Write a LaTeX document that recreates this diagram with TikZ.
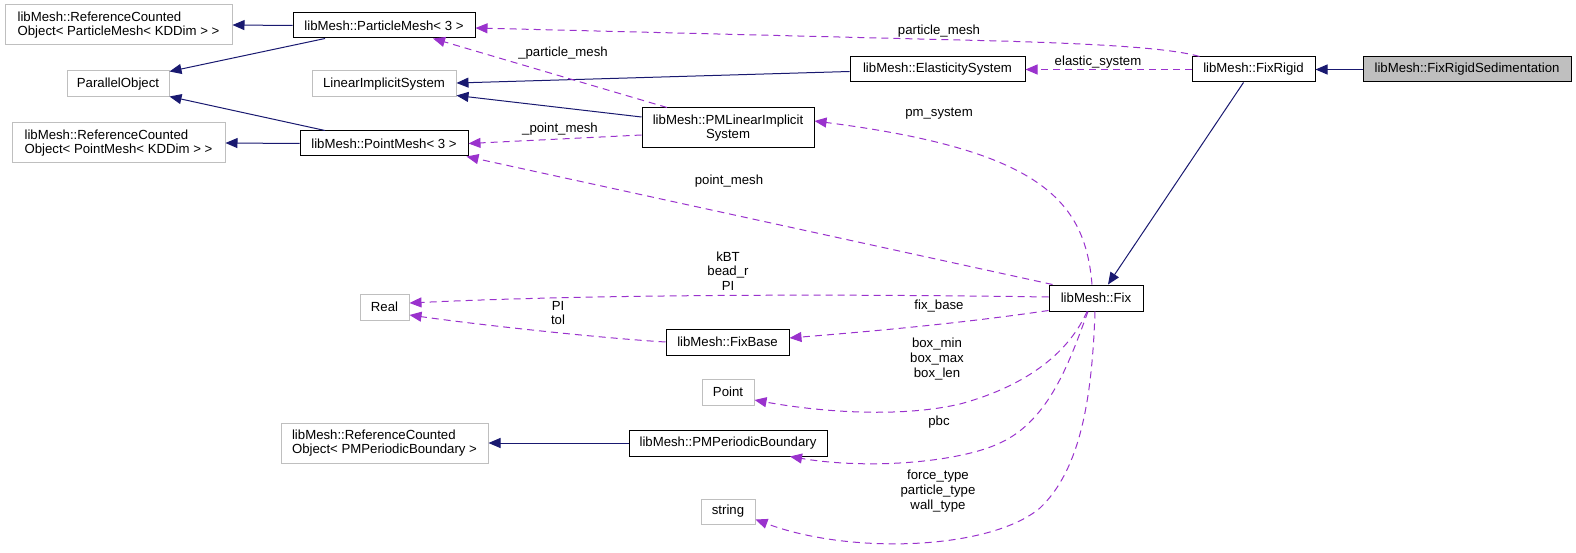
\documentclass[tikz,border=0pt]{standalone}
\usepackage{fontspec}
\setmainfont{Liberation Sans}
\usetikzlibrary{arrows.meta}
\definecolor{navyedge}{HTML}{191970}
\definecolor{depedge}{HTML}{9A32CD}
\definecolor{boxgray}{HTML}{BFBFBF}
\newcommand\dfont{\fontsize{13.2}{14.6}\selectfont}
\tikzset{
  box/.style={rectangle, draw=black, fill=white, line width=1pt, inner sep=0pt, font=\dfont, align=center},
  gbox/.style={box, draw=boxgray},
  inh/.style={draw=navyedge, line width=1pt, -{Triangle[length=12pt,width=10pt]}},
  dep/.style={draw=depedge, line width=1pt, dash pattern=on 7pt off 5pt, -{Triangle[length=12pt,width=10pt]}},
  lab/.style={font=\dfont, inner sep=0pt, align=center}
}
\begin{document}
\begin{tikzpicture}[x=1pt,y=-1pt]
\useasboundingbox (0,0) rectangle (1576,553);
% nodes
\node[gbox, minimum width=227pt, minimum height=40pt, align=left] (rcpm) at (118.5,25) {libMesh::ReferenceCounted\\Object< ParticleMesh< KDDim > >};
\node[box, minimum width=182pt, minimum height=25pt] (pm) at (384,25.5) {libMesh::ParticleMesh< 3 >};
\node[gbox, minimum width=102pt, minimum height=26pt] (po) at (118,84) {ParallelObject};
\node[gbox, minimum width=144pt, minimum height=26pt] (lis) at (384,84) {LinearImplicitSystem};
\node[gbox, minimum width=213pt, minimum height=40pt, align=left] (rcptm) at (118.5,143) {libMesh::ReferenceCounted\\Object< PointMesh< KDDim > >};
\node[box, minimum width=168pt, minimum height=25pt] (ptm) at (384,143.5) {libMesh::PointMesh< 3 >};
\node[box, minimum width=175pt, minimum height=25pt] (es) at (937.5,69.5) {libMesh::ElasticitySystem};
\node[box, minimum width=172pt, minimum height=40pt] (pmlis) at (728,128) {libMesh::PMLinearImplicit\\System};
\node[box, minimum width=123pt, minimum height=25pt] (fr) at (1253.5,69.5) {libMesh::FixRigid};
\node[box, fill=boxgray, minimum width=208pt, minimum height=25pt] (frs) at (1467,69.5) {libMesh::FixRigidSedimentation};
\node[box, minimum width=94pt, minimum height=26pt] (fix) at (1096,298) {libMesh::Fix};
\node[gbox, minimum width=49pt, minimum height=26pt] (real) at (384.5,307) {Real};
\node[box, minimum width=123pt, minimum height=26pt] (fb) at (727.5,342) {libMesh::FixBase};
\node[gbox, minimum width=52pt, minimum height=26pt] (point) at (728,392) {Point};
\node[gbox, minimum width=207pt, minimum height=40pt, align=left] (rcpb) at (384.5,443) {libMesh::ReferenceCounted\\Object< PMPeriodicBoundary >};
\node[box, minimum width=198pt, minimum height=26pt] (pb) at (728,443) {libMesh::PMPeriodicBoundary};
\node[gbox, minimum width=54pt, minimum height=25pt] (str) at (728,511.5) {string};
% inheritance edges
\draw[inh] (frs.west) -- (fr.east);
\draw[inh] ([xshift=-10pt]fr.south) -- ([xshift=12pt]fix.north);
\draw[inh] (pm.west) -- (rcpm.east);
\draw[inh] ([xshift=-59pt]pm.south) -- ([yshift=-1pt]po.north east);
\draw[inh] ([xshift=-59pt]ptm.north) -- ([yshift=1pt]po.south east);
\draw[inh] (ptm.west) -- (rcptm.east);
\draw[inh] ([yshift=-2pt]es.west) -- ([yshift=1pt]lis.east);
\draw[inh] ([yshift=11pt]pmlis.west) -- ([yshift=2pt]lis.south east);
\draw[inh] (pb.west) -- (rcpb.east);
% usage edges
\draw[dep] ([xshift=-54pt]fr.north) .. controls (1170,48) and (1100,44) .. (1000,41) -- ([yshift=-2.5pt]pm.east);
\draw[dep] (fr.west) -- (es.east);
\draw[dep] ([xshift=-61pt]pmlis.north) -- ([xshift=49pt]pm.south);
\draw[dep] ([yshift=-7pt]pmlis.west) -- (ptm.east);
\draw[dep] ([xshift=-4pt]fix.north) .. controls (1085,200) and (1040,150) .. ([yshift=7pt]pmlis.east);
\draw[dep] ([xshift=4pt]fix.north west) -- ([xshift=-2pt]ptm.south east);
\draw[dep] ([yshift=1pt]fix.west) .. controls (850,294) and (600,294) .. ([yshift=4pt]real.east);
\draw[dep] (fb.west) .. controls (600,338) and (480,325) .. ([yshift=-8pt]real.east);
\draw[dep] ([yshift=1pt]fix.south west) .. controls (950,325) and (850,333) .. ([yshift=4pt]fb.east);
\draw[dep] ([xshift=-9pt]fix.south) .. controls (1070,350) and (1030,385) .. (960,404) .. controls (900,418) and (820,412) .. ([yshift=-8pt]point.east);
\draw[dep] ([xshift=-8pt]fix.south) .. controls (1070,360) and (1050,420) .. (1000,443) .. controls (960,462) and (870,470) .. ([xshift=62pt]pb.south);
\draw[dep] ([xshift=-1pt]fix.south) .. controls (1092,400) and (1080,470) .. (1040,508) .. controls (990,550) and (850,555) .. ([yshift=-8pt]str.east);
% labels
\node[lab] (lpm) at (939,31) {particle\_mesh};
\node[lab] (les) at (1098,62) {elastic\_system};
\node[lab] (lppm) at (563,53) {\_particle\_mesh};
\node[lab] (lptm) at (560,129) {\_point\_mesh};
\node[lab] (lpms) at (939,114) {pm\_system};
\node[lab] (lpt) at (729,181) {point\_mesh};
\node[lab] (lreal) at (728,271) {kBT\\bead\_r\\PI};
\node[lab] (lpitol) at (558,313) {PI\\tol};
\node[lab] (lfb) at (939,306) {fix\_base};
\node[lab] (lbox) at (937,359) {box\_min\\box\_max\\box\_len};
\node[lab] (lpbc) at (939,422) {pbc};
\node[lab] (lstr) at (938,491) {force\_type\\particle\_type\\wall\_type};
\end{tikzpicture}
\end{document}
